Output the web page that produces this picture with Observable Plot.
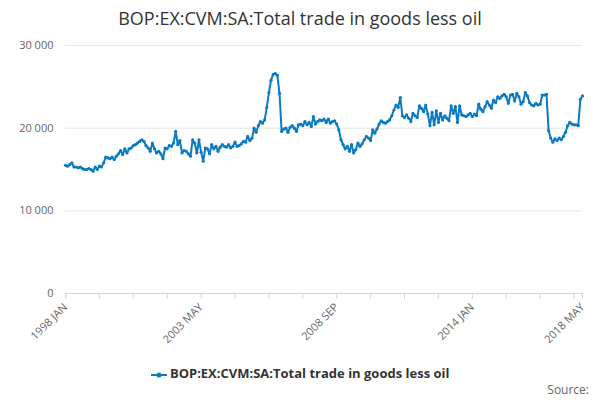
<!DOCTYPE html>
<html><head><meta charset="utf-8">
<script src="https://cdn.jsdelivr.net/npm/d3@7"></script>
<script src="https://cdn.jsdelivr.net/npm/@observablehq/plot@0.6"></script>
<style>
body{margin:0;font-family:"Open Sans",sans-serif;background:#fff;width:600px;height:400px;position:relative;overflow:hidden}
#title{position:absolute;top:6px;width:600px;text-align:center;font-size:18px;color:#333}
#chart{position:absolute;top:35px;left:0}
#legend{position:absolute;top:364px;width:600px;text-align:center;font-size:13px;font-weight:bold;color:#333}
#source{position:absolute;top:381px;right:11px;font-size:12px;color:#666}
</style></head><body>
<div id="title">BOP:EX:CVM:SA:Total trade in goods less oil</div>
<div id="chart"></div>
<div id="legend"><svg width="16" height="10" style="vertical-align:middle"><line x1="0" y1="5" x2="16" y2="5" stroke="#0b7bc1" stroke-width="2"/><circle cx="8" cy="5" r="2.5" fill="#0b7bc1"/></svg> BOP:EX:CVM:SA:Total trade in goods less oil</div>
<div id="source">Source:</div>
<script>
const seriesName = "BOP:EX:CVM:SA:Total trade in goods less oil";
const startYear = 1998;
const monthNames = ["JAN","FEB","MAR","APR","MAY","JUN","JUL","AUG","SEP","OCT","NOV","DEC"];
const valuesK = [
15.5,15.4,15.6,15.8,15.3,15.3,15.2,15.3,15.1,15.0,15.0,15.1,15.0,14.8,15.3,15.0,15.4,
15.3,15.8,16.5,16.4,16.3,16.5,16.2,16.6,16.9,17.3,16.8,17.5,17.0,17.5,17.6,17.9,18.0,18.2,18.4,18.6,
18.4,17.9,17.6,17.2,18.2,17.5,17.0,17.2,16.9,16.3,17.6,17.5,17.9,17.8,18.2,
19.6,
18.0,18.5,17.0,17.3,17.2,16.9,16.6,18.6,18.2,17.0,18.6,17.1,
16.0,
17.6,17.5,16.9,18.0,17.5,17.8,17.2,17.7,18.0,17.8,17.7,18.0,17.6,17.8,18.3,17.8,17.9,18.1,18.4,18.3,19.0,
18.5,18.8,20.0,19.5,20.3,20.8,20.6,21.0,22.5,24.3,
25.8,26.5,26.6,26.4,
24.2,
19.6,19.9,20.0,19.5,20.1,20.3,20.0,19.6,20.4,20.5,20.3,20.8,20.4,20.7,20.2,21.4,20.5,20.8,21.0,20.9,21.1,20.7,21.1,20.6,20.8,20.9,20.5,19.8,
18.6,18.0,17.5,17.8,17.2,18.0,17.0,
17.4,18.2,17.8,18.1,18.6,19.0,18.8,18.5,19.8,19.4,19.9,20.5,20.9,20.7,20.6,20.8,21.0,21.5,22.2,22.8,22.5,
23.7,
21.5,21.3,21.6,21.2,20.8,21.8,21.5,21.3,22.7,22.4,22.0,22.8,21.7,20.3,21.9,20.4,22.1,20.7,21.8,21.0,21.5,21.2,20.9,22.7,21.8,22.6,20.7,22.7,21.6,21.5,21.4,21.6,21.8,
21.4,21.7,21.5,22.9,22.3,22.0,22.6,23.2,22.8,22.4,23.4,23.1,23.8,23.6,23.9,24.1,23.8,23.0,24.0,24.1,23.3,24.2,23.8,22.9,23.2,24.3,23.9,23.1,22.8,22.7,23.0,22.8,22.9,24.0,24.0,24.1,
19.7,18.8,18.3,18.7,18.5,18.8,18.6,19.0,19.5,20.3,20.7,20.5,20.4,
20.4,20.3,23.5,23.9
];
const yTicks = [0,10000,20000,30000];
const data = valuesK.map((v,i)=>({i, v:v*1000}));
const last = data.length-1;
const label = i => `${startYear+Math.floor(i/12)} ${monthNames[i%12]}`;
const xTicks = d3.range(0,last,16).concat([last]);
const labelTicks = [0,64,128,192,last];
const fmt = d3.format(",");
const chart = Plot.plot({
  width:600,height:330,marginLeft:65,marginRight:18,marginTop:10,marginBottom:72,
  style:{fontFamily:"Open Sans",fontSize:"11px",color:"#666"},
  x:{domain:[0,last],ticks:xTicks,tickFormat:i=>labelTicks.includes(i)?label(i):"",tickRotate:-45,label:null,tickSize:6},
  y:{domain:[0,30000],ticks:yTicks,tickFormat:d=>fmt(d).replace(/,/g," "),label:null,tickSize:0,tickPadding:12},
  marks:[
    Plot.gridY(yTicks,{stroke:"#e6e6e6",strokeOpacity:1}),
    Plot.ruleY([0],{stroke:"#ccd6eb"}),
    Plot.axisX({ticks:xTicks,tickFormat:i=>labelTicks.includes(i)?label(i):"",tickRotate:-45,stroke:"#ccd6eb",tickSize:6,fill:"#666"}),
    Plot.line(data,{x:"i",y:"v",stroke:"#0b7bc1",strokeWidth:2}),
    Plot.dot(data,{x:"i",y:"v",r:1.6,fill:"#0b7bc1"})
  ]
});
document.getElementById("chart").appendChild(chart);
</script></body></html>
